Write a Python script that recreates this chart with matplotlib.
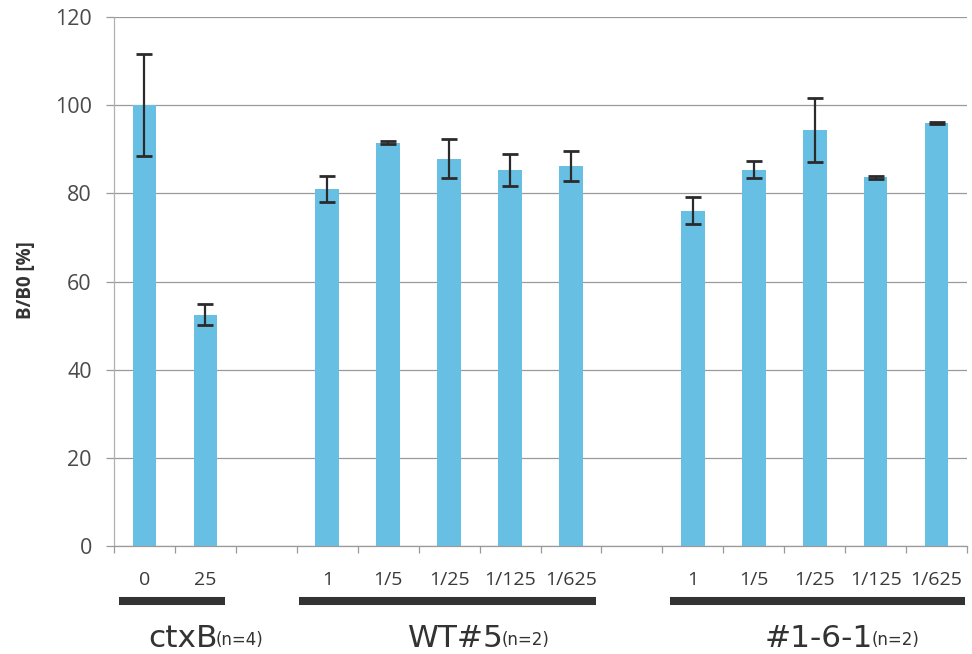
import matplotlib
matplotlib.use("Agg")
import matplotlib.pyplot as plt
from matplotlib.lines import Line2D
import matplotlib.transforms as mtransforms
import numpy as np

# Data: B/B0 (%) with error bars; empty strings mark spacer slots
categories = ["0", "25", "", "1", "1/5", "1/25", "1/125", "1/625",
              "", "1", "1/5", "1/25", "1/125", "1/625"]
values = [100.0, 52.5, None, 81.0, 91.5, 87.9, 85.3, 86.2,
          None, 76.1, 85.4, 94.4, 83.6, 95.9]
errors = [11.5, 2.3, None, 3.0, 0.3, 4.4, 3.7, 3.3,
          None, 3.0, 2.0, 7.3, 0.3, 0.2]
group_names = ["ctxB", "WT#5", "#1-6-1"]
group_counts = ["(n=4)", "(n=2)", "(n=2)"]
group_spans = [(0, 1), (3, 7), (9, 13)]
y_ticks = [0, 20, 40, 60, 80, 100, 120]

W, H = 972, 654
fig = plt.figure(figsize=(W / 100, H / 100), dpi=100)
ax = fig.add_axes([114 / W, 1 - 546 / H, (967 - 114) / W, (546 - 17) / H])

idx = [i for i, v in enumerate(values) if v is not None]
vals = [values[i] for i in idx]
errs = [errors[i] for i in idx]

ax.bar(idx, vals, width=0.39, color="#68bfe4", zorder=2)
ax.errorbar(idx, vals, yerr=errs, fmt="none", ecolor="#2b2b2b",
            elinewidth=1.6, capsize=5.5, capthick=2.0, zorder=3)

ax.set_xlim(-0.5, len(categories) - 0.5)
ax.set_ylim(0, 120)
ax.set_yticks(y_ticks)
ax.yaxis.grid(True, color="#9a9a9a", linewidth=0.9, zorder=0)
ax.set_axisbelow(True)

ax.set_xticks(range(len(categories)))
ax.set_xticklabels(categories, fontsize=14, family="Open Sans", color="#3a3a3a")
ax.set_xticks(np.arange(-0.5, len(categories)), minor=True)
ax.tick_params(axis="x", which="major", length=0, pad=18)
ax.tick_params(axis="x", which="minor", length=5, color="#9a9a9a", width=0.9)
ax.tick_params(axis="y", length=6, color="#9a9a9a", width=0.9, pad=10,
               labelsize=15.5, labelcolor="#4a4a4a")
for lab in ax.get_yticklabels():
    lab.set_family("Open Sans")

for side in ("top", "right"):
    ax.spines[side].set_visible(False)
ax.spines["left"].set_color("#b0b0b0")
ax.spines["bottom"].set_color("#9a9a9a")
ax.spines["left"].set_linewidth(0.9)
ax.spines["bottom"].set_linewidth(0.9)

fig.text(26 / W, 1 - 280 / H, "B/B0 [%]", rotation=90, ha="center", va="center",
         fontsize=13.5, fontweight="bold", family="Open Sans", color="#333333")

# Group bars beneath the axis
blend = mtransforms.blended_transform_factory(ax.transData, fig.transFigure)
span_pad = [(0.41, 0.33), (0.46, 0.41), (0.38, 0.47)]
for (start, end), (lo, hi) in zip(group_spans, span_pad):
    fig.add_artist(Line2D([start - lo, end + hi], [1 - 601 / H] * 2, transform=blend,
                          color="#333333", linewidth=5.8, solid_capstyle="butt"))

# Group names with sample counts
name_x = [148, 408, 765]
fig.canvas.draw()
for big, small, x0 in zip(group_names, group_counts, name_x):
    t1 = fig.text(x0 / W, 1 - 647 / H, big, fontsize=22.5, family="DejaVu Sans",
                  color="#333333", ha="left", va="baseline")
    bb = t1.get_window_extent(renderer=fig.canvas.get_renderer())
    fig.text((bb.x1 - 2) / W, 1 - 645 / H, small, fontsize=12, family="DejaVu Sans",
             color="#333333", ha="left", va="baseline")

fig.savefig("out.png", dpi=100, facecolor="white")
